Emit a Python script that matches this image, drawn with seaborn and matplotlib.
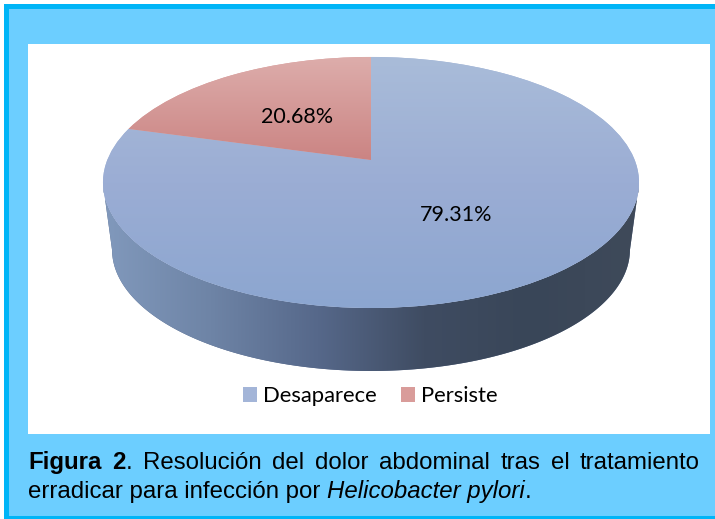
import numpy as np
import matplotlib
matplotlib.use("Agg")
import matplotlib.pyplot as plt
from matplotlib.patches import Rectangle
from matplotlib.transforms import Transform
from matplotlib.colors import ListedColormap
import seaborn as sns

categories = ["Desaparece", "Persiste"]
values = [79.31, 20.68]
caption_bold = "Figura 2"
caption_line1 = ". Resolución del dolor abdominal tras el tratamiento"
caption_line2 = "erradicar para infección por"
caption_italic = "Helicobacter pylori"

sns.set_theme(style="white")
plt.rcParams["font.family"] = ["Lato", "DejaVu Sans"]

BLUE_TOP = ["#A9BCD9", "#9BADD4", "#8CA6D0"]
RED_TOP = ["#DDADAB", "#CB8483"]
SIDE = ["#8199BC", "#6E84A6", "#56688A", "#3F4C62", "#394658", "#3F4A5A"]

W, H = 715, 519
fig = plt.figure(figsize=(W / 100, H / 100), dpi=100, facecolor="white")
ax = fig.add_axes([0, 0, 1, 1])


class Perspective(Transform):
    input_dims = output_dims = 2
    is_affine = False
    has_inverse = False

    def __init__(self, scale=1.0, dy=0.0):
        super().__init__()
        self.scale, self.dy = scale, dy

    def transform_non_affine(self, xy):
        xy = np.asarray(xy, float)
        u, v = xy[:, 0], xy[:, 1]
        w = 1 + 0.179 * v
        return np.column_stack([371 + self.scale * 263.7 * u / w,
                                160 + self.dy - self.scale * 121.5 * v / w])


wedges, _ = ax.pie(values, startangle=90, counterclock=False, radius=1,
                   colors=["#A3B5D8", "#D99C9A"],
                   wedgeprops={"linewidth": 0})
ax.set_aspect("auto")

top = Perspective()
for wdg in wedges:
    wdg.set_transform(top + ax.transData)
    wdg.set_zorder(4)

# Panel
ax.add_patch(Rectangle((4, 4), 711, 515, fc="#00B5F7", ec="none", zorder=0))
ax.add_patch(Rectangle((9, 9), 706, 507, fc="#6CCEFF", ec="none", zorder=0.1))
ax.add_patch(Rectangle((28, 44), 682, 390, fc="white", ec="none", zorder=0.2))

# Rim
t = np.linspace(0, 2 * np.pi, 721)
circle = np.column_stack([np.cos(t), np.sin(t)])
upper = Perspective().transform(circle)
lower = Perspective(0.966, 68).transform(circle)
up = upper[(upper[:, 1] >= 183)]
up = up[np.argsort(up[:, 0])]
lo = lower[(lower[:, 1] >= 250)]
lo = lo[np.argsort(lo[:, 0])]
rim_xy = np.vstack([up, lo[::-1]])
rim = ax.fill(rim_xy[:, 0], rim_xy[:, 1], color="#56688A", lw=0, zorder=2)[0]


def gradient(colors, extent, clip, horizontal=False):
    pal = ListedColormap(sns.blend_palette(colors, 256))
    g = np.linspace(0, 1, 256)
    g = g[None, :] if horizontal else g[:, None]
    im = ax.imshow(g, cmap=pal, extent=extent, aspect="auto", zorder=5,
                   interpolation="bilinear", vmin=0, vmax=1)
    im.set_clip_path(clip)
    return im


gradient(SIDE, (103, 639, 372, 180), rim, horizontal=True).set_zorder(3)
gradient(BLUE_TOP, (103, 639, 308, 57), wedges[0])
gradient(RED_TOP, (128, 372, 160, 57), wedges[1])

# Value labels
ax.text(456, 215, f"{values[0]:.2f}%", ha="center", va="center", fontsize=15.5, color="black", zorder=6)
ax.text(297.5, 117, f"{values[1]:.2f}%", ha="center", va="center", fontsize=15.5, color="black", zorder=6)


# Caption
def width(txt, **kw):
    r = fig.canvas.get_renderer()
    s = ax.text(0, 0, txt, **kw)
    w = s.get_window_extent(r).width
    s.remove()
    return w


cap = dict(fontsize=17.3, family="Liberation Sans", color="black", va="baseline", zorder=6)
L, R = 28, 700
words = caption_line1.split(" ")
tokens = [[("Figura", "bold")], [("2", "bold"), (".", "normal")]] + [[(w, "normal")] for w in words[1:]]
tw = [sum(width(s, fontweight=fw, **cap) for s, fw in tok) for tok in tokens]
gap = (R - L - sum(tw)) / (len(tokens) - 1)
x = L
for tok, tk_w in zip(tokens, tw):
    xx = x
    for s, fw in tok:
        ax.text(xx, 469, s, fontweight=fw, **cap)
        xx += width(s, fontweight=fw, **cap)
    x += tk_w + gap

x = L
s = caption_line2 + "\u00a0"
ax.text(x, 498, s, **cap)
x += width(s, **cap)
ax.text(x, 498, caption_italic, fontstyle="italic", **cap)
x += width(caption_italic, fontstyle="italic", **cap)
ax.text(x, 498, ".", **cap)

ax.set_xlim(0, W)
ax.set_ylim(H, 0)
ax.set_xticks([])
ax.set_yticks([])
ax.set_frame_on(False)

leg = ax.legend(wedges, categories, ncol=2, frameon=False, loc="center",
                bbox_to_anchor=(370.5, 396), bbox_transform=ax.transData,
                fontsize=15.8, handlelength=0.64, handleheight=0.64,
                handletextpad=0.27, columnspacing=1.1, borderpad=0, labelcolor="black")
leg.set_zorder(7)

fig.savefig("out.png", dpi=100)
